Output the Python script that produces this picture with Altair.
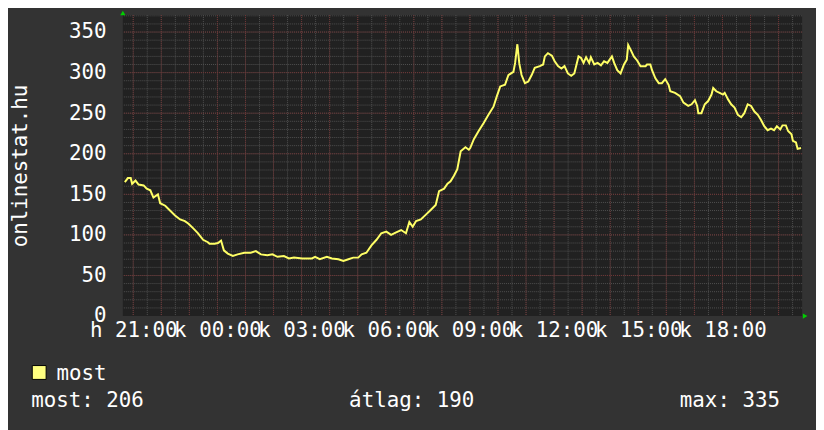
import altair as alt
import pandas as pd

# ---- data (hours relative to 00:00, visitors) ----
hours = [-3.30, -3.19, -3.09, -3.04, -2.92, -2.81, -2.63, -2.52, -2.39, -2.28,
         -2.12, -2.04, -1.86, -1.69, -1.51, -1.33, -1.16, -1.04, -0.86, -0.69,
         -0.51, -0.34, -0.28, -0.10, 0.02, 0.13, 0.23, 0.37, 0.55, 0.72,
         0.96, 1.19, 1.37, 1.55, 1.78, 1.96, 2.14, 2.37, 2.55, 2.73,
         3.02, 3.37, 3.48, 3.65, 3.90, 4.08, 4.31, 4.49, 4.67, 4.84,
         5.02, 5.14, 5.31, 5.49, 5.67, 5.84, 6.02, 6.19, 6.37, 6.55,
         6.72, 6.84, 6.96, 7.08, 7.25, 7.43, 7.61, 7.78, 7.90, 8.08,
         8.20, 8.31, 8.43, 8.55, 8.67, 8.84, 8.96, 9.01, 9.14, 9.31,
         9.49, 9.66, 9.84, 9.96, 10.08, 10.25, 10.37, 10.55, 10.61, 10.69,
         10.76, 10.84, 10.96, 11.08, 11.20, 11.31, 11.49, 11.61, 11.67, 11.78,
         11.92, 12.02, 12.14, 12.26, 12.37, 12.49, 12.61, 12.72, 12.87, 12.96,
         13.05, 13.14, 13.25, 13.31, 13.43, 13.55, 13.67, 13.78, 13.90, 14.06,
         14.14, 14.25, 14.37, 14.49, 14.59, 14.64, 14.73, 14.84, 14.96, 15.08,
         15.26, 15.31, 15.43, 15.49, 15.61, 15.73, 15.84, 15.96, 16.08, 16.14,
         16.31, 16.49, 16.61, 16.78, 16.90, 17.02, 17.10, 17.14, 17.25, 17.37,
         17.49, 17.61, 17.67, 17.78, 17.90, 18.02, 18.08, 18.20, 18.31, 18.43,
         18.55, 18.67, 18.78, 18.90, 19.02, 19.14, 19.26, 19.37, 19.49, 19.61,
         19.73, 19.84, 19.94, 20.06, 20.14, 20.26, 20.34, 20.46, 20.51, 20.62,
         20.68, 20.80]
values = [165, 170, 170, 163, 167, 162, 161, 157, 155, 146,
          150, 139, 136, 130, 124, 119, 117, 114, 108, 102,
          94, 91, 89, 89, 90, 93, 81, 77, 74, 76,
          78, 78, 80, 76, 75, 76, 73, 74, 71, 72,
          71, 71, 73, 70, 73, 71, 70, 68, 70, 72,
          72, 76, 78, 87, 94, 102, 104, 100, 103, 106,
          102, 116, 110, 117, 119, 125, 131, 137, 154, 157,
          163, 166, 173, 181, 203, 208, 205, 207, 218, 228,
          238, 248, 258, 271, 283, 285, 297, 301, 312, 335,
          311, 297, 287, 289, 297, 306, 308, 310, 320, 324,
          321, 314, 308, 305, 308, 299, 296, 299, 320, 318,
          312, 319, 312, 319, 310, 312, 309, 314, 312, 320,
          312, 303, 299, 310, 316, 334, 328, 320, 315, 308,
          308, 310, 310, 303, 293, 287, 287, 292, 285, 277,
          275, 271, 263, 259, 261, 266, 259, 250, 250, 261,
          265, 273, 281, 277, 275, 273, 275, 267, 261, 257,
          248, 245, 250, 261, 259, 252, 248, 242, 234, 229,
          231, 229, 234, 230, 235, 235, 228, 224, 216, 214,
          206, 207]

tick_hours = [-3, 0, 3, 6, 9, 12, 15, 18]
tick_labels = ["h 21:00", "k 00:00", "k 03:00", "k 06:00",
               "k 09:00", "k 12:00", "k 15:00", "k 18:00"]
y_ticks = [0, 50, 100, 150, 200, 250, 300, 350]
series_name = "most"
stat_labels = ["most: 206", "átlag: 190", "max: 335"]
y_title = "onlinestat.hu"

# ---- layout / style ----
X_MIN, X_MAX = -3.37, 20.84
Y_MAX = 371
W, H = 686, 304
FONT = "DejaVu Sans Mono"
FS = 21
LINE = "#ffff66"
MINOR = "#505050"
MAJOR = "#703434"

xs = alt.Scale(domain=[X_MIN, X_MAX], nice=False, zero=False)
ys = alt.Scale(domain=[0, Y_MAX], nice=False, zero=True)

label_expr = "[" + ",".join("'%s'" % t for t in tick_labels) + "][indexof([" + \
    ",".join(str(t) for t in tick_hours) + "], datum.value)]"

x_axis = alt.Axis(values=tick_hours, labelExpr=label_expr, title=None, grid=False,
                  ticks=False, domain=False, labelFont=FONT, labelFontSize=FS,
                  labelFontWeight="normal", labelColor="#ffffff", labelPadding=21,
                  labelBaseline="alphabetic", labelFlush=False, labelOverlap=False)
y_axis = alt.Axis(values=y_ticks, title=y_title, grid=False, ticks=False, domain=False,
                  labelFont=FONT, labelFontSize=FS, labelFontWeight="normal",
                  labelColor="#ffffff", labelPadding=17, labelBaseline="middle",
                  labelFlush=False, labelOverlap=False,
                  titleFont=FONT, titleFontSize=FS, titleFontWeight="normal",
                  titleColor="#ffffff", titleX=-97, titleY=152, titleAngle=270,
                  titleAlign="center", titleBaseline="alphabetic")

df = pd.DataFrame({"h": hours, "v": values})
one = pd.DataFrame({"k": [0]})

minor_v = pd.DataFrame({"h": [-3 + 0.5 * i for i in range(48)]})
major_v = pd.DataFrame({"h": list(range(-3, 21))})
minor_h = pd.DataFrame({"v": list(range(10, 371, 10))})
major_h = pd.DataFrame({"v": list(range(50, 351, 50))})


def vrule(data, color):
    return alt.Chart(data).mark_rule(color=color, strokeWidth=1, strokeDash=[1, 1]).encode(
        x=alt.X("h:Q", scale=xs, axis=x_axis))


def hrule(data, color):
    return alt.Chart(data).mark_rule(color=color, strokeWidth=1, strokeDash=[1, 1]).encode(
        y=alt.Y("v:Q", scale=ys, axis=y_axis))


line = alt.Chart(df).mark_line(color=LINE, strokeWidth=2, interpolate="linear").encode(
    x=alt.X("h:Q", scale=xs, axis=x_axis),
    y=alt.Y("v:Q", scale=ys, axis=y_axis),
)

arrow_up = alt.Chart(one).mark_point(shape="triangle-up", filled=True, color="#00d000",
                                     size=28, opacity=1, yOffset=-2).encode(
    x=alt.value(0), y=alt.value(0))
arrow_right = alt.Chart(one).mark_point(shape="triangle-right", filled=True, color="#00d000",
                                        size=28, opacity=1, xOffset=3).encode(
    x=alt.value(W), y=alt.value(H))

legend_sq = alt.Chart(one).mark_square(size=196, color="#ffff80", stroke="#000000",
                                       strokeWidth=1, opacity=1).encode(
    x=alt.value(-84.5), y=alt.value(361))
legend_txt = alt.Chart(pd.DataFrame({"t": [series_name]})).mark_text(
    font=FONT, fontSize=FS, fontWeight="normal", color="#ffffff", align="left",
    baseline="alphabetic").encode(
    x=alt.value(-67), y=alt.value(368.5), text="t:N")

stat_pos = [-92.5, 228.5, 562.5]
stats = [alt.Chart(pd.DataFrame({"t": [lbl]})).mark_text(
    font=FONT, fontSize=FS, fontWeight="normal", color="#ffffff", align="left",
    baseline="alphabetic").encode(
    x=alt.value(px), y=alt.value(396), text="t:N")
    for px, lbl in zip(stat_pos, stat_labels)]

chart = alt.layer(
    vrule(minor_v, MINOR), hrule(minor_h, MINOR),
    vrule(major_v, MAJOR), hrule(major_h, MAJOR),
    line, arrow_up, arrow_right, legend_sq, legend_txt, *stats
).properties(
    width=W, height=H,
    autosize=alt.AutoSizeParams(type="none"),
    padding={"left": 116, "top": 5, "right": 14, "bottom": 113},
    background="#333333",
).configure_view(fill="#212121", stroke=None)

chart.save("out.html", embed_options={"renderer": "svg", "actions": False})
